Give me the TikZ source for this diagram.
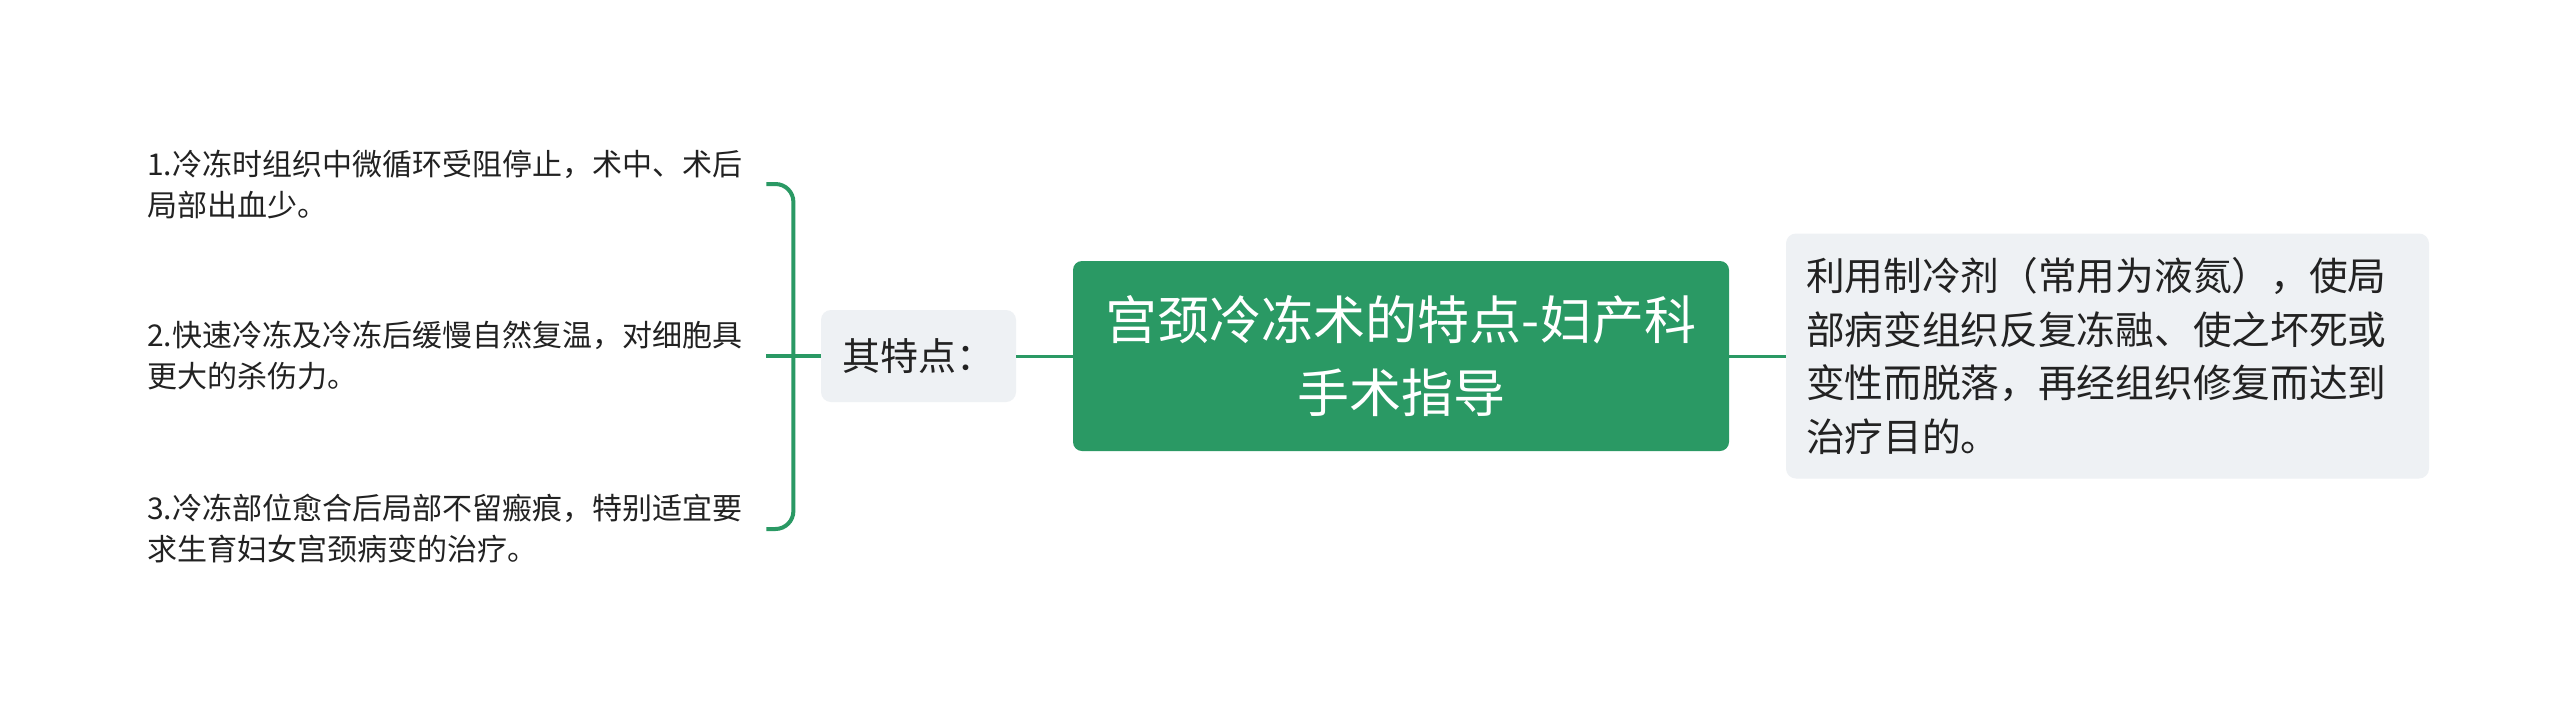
\documentclass[tikz,border=0pt]{standalone}
\usepackage{fontspec}
\setmainfont{Noto Sans CJK SC}
\usetikzlibrary{calc}
\definecolor{mgreen}{HTML}{2A9964}
\definecolor{lgray}{HTML}{EEF1F4}
\definecolor{tdark}{HTML}{222222}
\begin{document}
\begin{tikzpicture}[x=1pt,y=-1pt,
  conn/.style={draw=mgreen, line width=3pt},
  bracket/.style={draw=mgreen, line width=4pt, rounded corners=18pt},
  rootbox/.style={fill=mgreen, rounded corners=9pt, text=white, align=center,
    font=\fontsize{52}{73}\selectfont, minimum width=656pt, minimum height=190pt, inner sep=0pt},
  graybox/.style={fill=lgray, rounded corners=10pt, text=tdark},
  itemtext/.style={text=tdark, align=left, text width=619pt, inner sep=0pt, anchor=west,
    font=\fontsize{30}{41}\selectfont}
]
\useasboundingbox[fill=white] (0,0) rectangle (2560,713);

\node[rootbox] (root) at (1401,356) {宫颈冷冻术的特点-妇产科\\手术指导};

\node[graybox, font=\fontsize{38}{50}\selectfont, minimum width=195pt, minimum height=92pt, inner sep=0pt]
  (tezd) at (918.5,356) {其特点：};

\node[graybox, font=\fontsize{38.7}{53.5}\selectfont, align=left, text width=603pt,
  inner xsep=20pt, inner ysep=0pt, minimum height=245pt] (rn) at (2107.5,356)
  {利用制冷剂（常用为液氮），使局\\部病变组织反复冻融、使之坏死或\\变性而脱落，再经组织修复而达到\\治疗目的。};

\node[itemtext] (i1) at (147,184) {1.冷冻时组织中微循环受阻停止，术中、术后\\局部出血少。};
\node[itemtext] (i2) at (147,356) {2.快速冷冻及冷冻后缓慢自然复温，对细胞具\\更大的杀伤力。};
\node[itemtext] (i3) at (147,529) {3.冷冻部位愈合后局部不留瘢痕，特别适宜要\\求生育妇女宫颈病变的治疗。};

\draw[bracket] (i1.east) -| ($(i2.east)+(27,0)$) |- (i3.east);
\draw[bracket] (i2.east) -- (tezd.west);
\draw[conn] (tezd.east) -- (root.west);
\draw[conn] (root.east) -- (rn.west);
\end{tikzpicture}
\end{document}
